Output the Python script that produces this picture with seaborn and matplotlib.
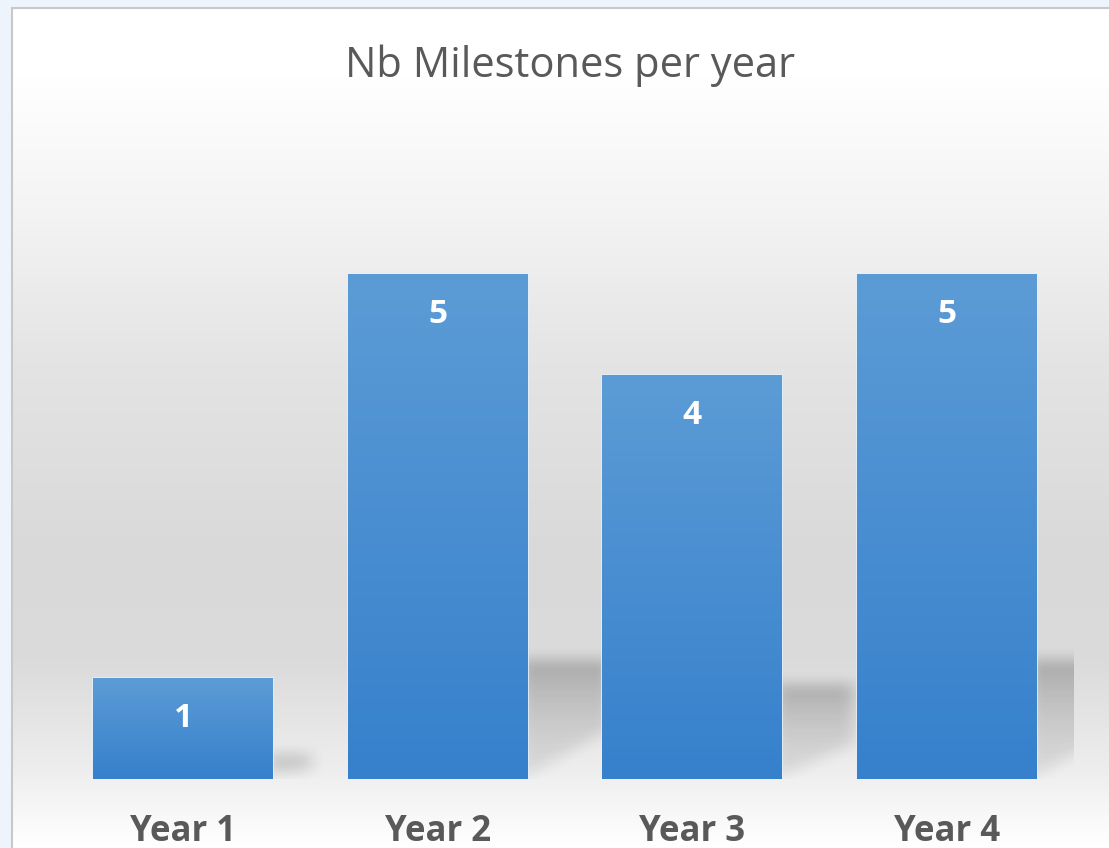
import numpy as np
import pandas as pd
import matplotlib
matplotlib.use("Agg")
import matplotlib.pyplot as plt
import seaborn as sns
from matplotlib.colors import LinearSegmentedColormap
from matplotlib.patches import Rectangle

# Data
years = ["Year 1", "Year 2", "Year 3", "Year 4"]
milestones = [1, 5, 4, 5]
title = "Nb Milestones per year"

df = pd.DataFrame({"Year": years, "Milestones": milestones})

sns.set_theme(style="white")
plt.rcParams["font.family"] = ["Open Sans", "DejaVu Sans"]

W, H = 1109, 848
fig = plt.figure(figsize=(W / 100, H / 100), dpi=100)
fig.patch.set_facecolor("#eef4fc")

# Chart area background (vertical grey gradient, like the Excel style)
bg_ax = fig.add_axes([12 / W, 0, 1 - 12 / W, 1 - 8 / H])
stops = [(0.0, "#ffffff"), (0.08, "#ffffff"), (0.25, "#f3f3f3"), (0.42, "#e4e4e4"),
         (0.65, "#d9d9d9"), (0.78, "#dbdbdb"), (0.91, "#eeeeee"), (1.0, "#ffffff")]
bg_cmap = LinearSegmentedColormap.from_list("bg", stops)
grad = np.linspace(0, 1, 512).reshape(-1, 1)
bg_ax.imshow(grad, cmap=bg_cmap, aspect="auto", extent=(0, 1, 0, 1), origin="upper")
bg_ax.set_axis_off()
fig.patches.append(Rectangle((12 / W, -0.01), 1, 1 - 8 / H + 0.01, transform=fig.transFigure,
                             fill=False, edgecolor="#c8c8c8", linewidth=1.5))

# Main plot
ax = fig.add_axes([56 / W, 1 - 779 / H, 1018 / W, 656.5 / H])
ax.patch.set_alpha(0)
sns.barplot(data=df, x="Year", y="Milestones", color="#4a8fd2", width=0.707,
            ax=ax, zorder=3)
ax.set_ylim(0, 6.5)
ax.set_xlim(-0.5, 3.5)


def box_blur(a, kx, ky):
    a = np.apply_along_axis(lambda r: np.convolve(r, np.ones(kx) / kx, mode="same"), 1, a)
    a = np.apply_along_axis(lambda c: np.convolve(c, np.ones(ky) / ky, mode="same"), 0, a)
    return a


bar_cmap = LinearSegmentedColormap.from_list("bar", ["#3680cc", "#5c9cd6"])
for patch, v in zip(ax.patches, milestones):
    x, w = patch.get_x(), patch.get_width()
    right = x + w
    # soft shadow cast to the back-right
    sh = 0.235 * v
    ext = 0.10 + 0.045 * v
    slope = 0.28 * v
    x0, x1 = right - 0.03, right + ext + 0.15
    y0, y1 = -0.3, sh + 0.45
    nx, ny = int((x1 - x0) / 0.002), int((y1 - y0) / 0.004)
    xs = np.linspace(x0, x1, nx)
    ys = np.linspace(y0, y1, ny)
    X, Y = np.meshgrid(xs, ys)
    mask = ((Y < sh) & (X < right + ext) & (Y > 0.04 + slope * (X - right))).astype(float)
    shade = mask * (0.09 + 0.14 * np.clip(Y / max(sh, 1e-6), 0, 1) ** 2)
    shade = box_blur(box_blur(shade, 41, 41), 31, 31)
    rgba = np.zeros((ny, nx, 4))
    rgba[..., 3] = shade
    ax.imshow(rgba, extent=(x0, x1, y0, y1), origin="lower", aspect="auto",
              zorder=1, interpolation="bilinear")

    # gradient fill of the bar
    im = ax.imshow(grad, cmap=bar_cmap, extent=(x, right, 0, v), origin="lower",
                   aspect="auto", zorder=4)
    im.set_clip_path(patch)
    patch.set_edgecolor("#e4eff9")
    patch.set_linewidth(1.2)

    # data label
    ax.text(x + w / 2, v - 0.4, str(v), ha="center", va="center", color="white",
            fontsize=24, fontweight="bold", zorder=5)

ax.set_xlim(-0.5, 3.5)
ax.set_ylim(0, 6.5)
ax.set_xlabel("")
ax.set_ylabel("")
ax.set_yticks([])
sns.despine(ax=ax, left=True, bottom=True)
ax.tick_params(axis="x", length=0, pad=25, labelsize=25, labelcolor="#595959")
for lbl in ax.get_xticklabels():
    lbl.set_fontweight("bold")

fig.text(570 / W, 1 - 77 / H, title, ha="center", va="baseline", fontsize=30,
         color="#595959")

fig.savefig("out.png", dpi=100)
